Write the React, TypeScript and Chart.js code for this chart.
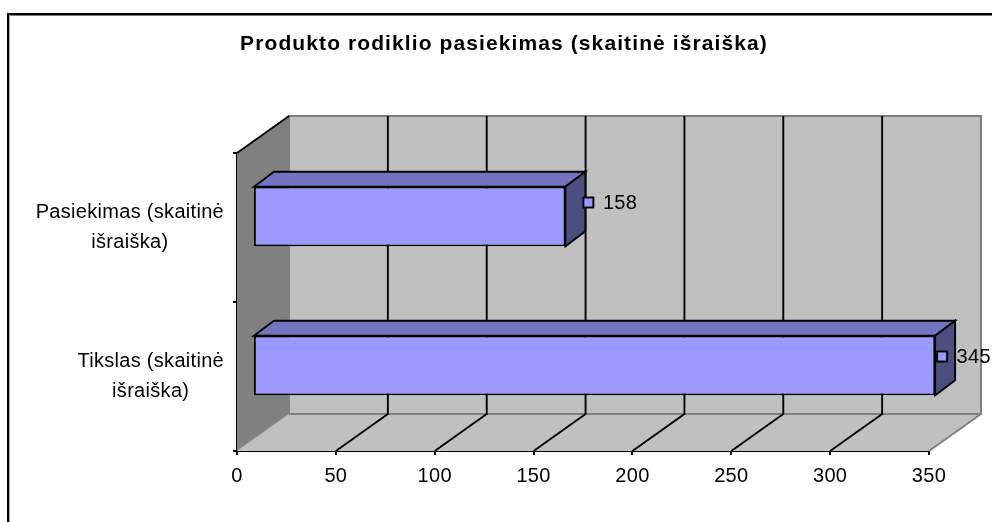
import React, { useEffect, useRef } from "react";
import { Chart, registerables } from "chart.js";

Chart.register(...registerables);

const titleText = "Produkto rodiklio pasiekimas (skaitinė išraiška)";
const categories = [
  ["Pasiekimas (skaitinė", "išraiška)"],
  ["Tikslas (skaitinė", "išraiška)"],
];
const seriesValues = [158, 345];
const seriesName = "Produkto rodiklis";
const xTickMax = 350;
const xTickStep = 50;

// 3D projection of the Excel-style chart box (pixels)
const DEPTH_X = 52;
const DEPTH_Y = -37;
const BAR_SHIFT_X = 16;
const BAR_SHIFT_Y = -11;
const BAR_DEPTH_X = 20;
const BAR_DEPTH_Y = -15;
const LABEL_SHIFT: [number, number][] = [
  [23, -14],
  [7, -9],
];
const LINE = 1.9;
const TEXT_SPACING = "0.3px";
const TITLE_SPACING = "1.1px";

const FONT = "'Liberation Sans', Arial, sans-serif";
const C_WALL = "#C0C0C0";
const C_SIDE = "#808080";
const C_BAR = "#9999FF";
const C_BAR_TOP = "#7373BF";
const C_BAR_SIDE = "#4D4D80";

function poly(ctx: CanvasRenderingContext2D, pts: number[][], fill?: string, stroke?: string, lw = 1) {
  ctx.beginPath();
  pts.forEach((p, i) => (i ? ctx.lineTo(p[0], p[1]) : ctx.moveTo(p[0], p[1])));
  if (fill) {
    ctx.closePath();
    ctx.fillStyle = fill;
    ctx.fill();
  }
  if (stroke) {
    ctx.strokeStyle = stroke;
    ctx.lineWidth = lw;
    ctx.stroke();
  }
}

const boxPlugin = {
  id: "box3d",
  beforeLayout(chart: any) {
    chart.ctx.letterSpacing = TEXT_SPACING;
  },
  afterLayout(chart: any) {
    const block = chart.titleBlock;
    if (block) {
      // centre of the title is not the centre of the plot
      block.left = 16;
      block.right = 992;
      if (!block.__spaced) {
        block.__spaced = true;
        const draw = block.draw;
        block.draw = function () {
          chart.ctx.letterSpacing = TITLE_SPACING;
          draw.call(block);
          chart.ctx.letterSpacing = TEXT_SPACING;
        };
      }
    }
  },
  beforeDraw(chart: any) {
    const ctx = chart.ctx;
    ctx.letterSpacing = TEXT_SPACING;
    ctx.save();
    ctx.fillStyle = "#fff";
    ctx.fillRect(0, 0, chart.width, chart.height);
    ctx.fillStyle = "#808080";
    ctx.fillRect(9, 15, chart.width, 1);
    ctx.fillStyle = "#AAAAAA";
    ctx.fillRect(9, 15, 1, chart.height);
    ctx.fillStyle = "#000";
    ctx.fillRect(7, 13, chart.width, 2);
    ctx.fillRect(7, 13, 2, chart.height);
    ctx.restore();
  },
  beforeDatasetsDraw(chart: any) {
    const { ctx, chartArea: a, scales } = chart;
    const { left: l, right: r, top: t, bottom: b } = a;
    const dx = DEPTH_X;
    const dy = DEPTH_Y;
    ctx.save();
    // back wall
    poly(ctx, [[l + dx, t + dy], [r + dx, t + dy], [r + dx, b + dy], [l + dx, b + dy]], C_WALL);
    // floor
    poly(ctx, [[l, b], [r, b], [r + dx, b + dy], [l + dx, b + dy]], C_WALL);
    // side wall
    poly(ctx, [[l, b], [l + dx, b + dy], [l + dx, t + dy], [l, t]], C_SIDE);
    // wall edges
    poly(ctx, [[l + dx, b + dy], [l + dx, t + dy], [r + dx, t + dy], [r + dx, b + dy], [l + dx, b + dy]], undefined, C_SIDE, 2);
    poly(ctx, [[l, b], [l + dx, b + dy]], undefined, "#A8A8A8", 1);
    poly(ctx, [[r, b], [r + dx, b + dy]], undefined, C_SIDE, 2);
    // grid lines
    for (const tick of scales.x.ticks) {
      const x = scales.x.getPixelForValue(tick.value);
      if (tick.value > 0 && tick.value < xTickMax) {
        poly(ctx, [[x, b], [x + dx, b + dy], [x + dx, t + dy]], undefined, "#000", LINE);
      }
    }
    // side wall top edge
    poly(ctx, [[l, t], [l + dx, t + dy]], undefined, "#000", LINE);
    ctx.restore();
  },
  beforeDatasetDraw(chart: any) {
    const ctx = chart.ctx;
    const meta = chart.getDatasetMeta(0);
    ctx.save();
    ctx.translate(BAR_SHIFT_X, BAR_SHIFT_Y);
    ctx.lineJoin = "miter";
    for (const bar of meta.data) {
      const p = bar.getProps(["x", "y", "base", "height"], true);
      const top = p.y - p.height / 2;
      const bot = p.y + p.height / 2;
      const ddx = BAR_DEPTH_X;
      const ddy = BAR_DEPTH_Y;
      poly(ctx, [[p.base, top], [p.x, top], [p.x + ddx, top + ddy], [p.base + ddx, top + ddy], [p.base, top]], C_BAR_TOP, "#000", LINE);
      poly(ctx, [[p.x, top], [p.x + ddx, top + ddy], [p.x + ddx, bot + ddy], [p.x, bot], [p.x, top]], C_BAR_SIDE, "#000", LINE);
    }
  },
  afterDatasetDraw(chart: any) {
    chart.ctx.restore();
  },
  afterDatasetsDraw(chart: any) {
    const ctx = chart.ctx;
    const meta = chart.getDatasetMeta(0);
    ctx.save();
    meta.data.forEach((bar: any, i: number) => {
      const p = bar.getProps(["x", "y"], true);
      const mx = p.x + BAR_SHIFT_X + LABEL_SHIFT[i][0];
      const my = p.y + BAR_SHIFT_Y + LABEL_SHIFT[i][1];
      ctx.fillStyle = C_BAR;
      ctx.fillRect(mx - 5, my - 5, 10, 10);
      ctx.strokeStyle = "#000";
      ctx.lineWidth = LINE;
      ctx.strokeRect(mx - 5, my - 5, 10, 10);
      ctx.fillStyle = "#000";
      ctx.font = `20px ${FONT}`;
      ctx.textAlign = "left";
      ctx.textBaseline = "middle";
      ctx.fillText(String(seriesValues[i]), mx + 14.5, my + 1);
    });
    ctx.restore();
  },
};

// Each category block is centred on itself, and the blocks share a right edge.
function alignCategoryBlocks(scale: any) {
  if (scale.__blocks) return;
  scale.__blocks = true;
  const original = scale.getLabelItems;
  let cached: any = null;
  scale.getLabelItems = function (area: any) {
    if (cached) return cached;
    const items = original.call(scale, area);
    const sizes = scale._labelSizes;
    const widest = sizes.widest.width;
    cached = items.map((item: any, i: number) => {
      const shift = (widest - sizes.widths[i]) / 2;
      const [tx, ty] = item.options.translation;
      return { ...item, options: { ...item.options, translation: [tx + shift, ty] } };
    });
    return cached;
  };
}

export default function App() {
  const ref = useRef<HTMLCanvasElement>(null);
  useEffect(() => {
    const chart = new Chart(ref.current as HTMLCanvasElement, {
      type: "bar",
      plugins: [boxPlugin],
      data: {
        labels: categories as any,
        datasets: [
          {
            label: seriesName,
            data: seriesValues,
            backgroundColor: C_BAR,
            borderColor: "#000",
            borderWidth: LINE,
            borderSkipped: false,
            barPercentage: 0.4,
            categoryPercentage: 1,
          },
        ],
      },
      options: {
        indexAxis: "y",
        animation: false,
        responsive: false,
        layout: { padding: { left: 0, right: 63, top: 0, bottom: 0 } },
        plugins: {
          legend: { display: false },
          tooltip: { enabled: false },
          title: {
            display: true,
            text: titleText,
            color: "#000",
            font: { family: FONT, size: 21, weight: "bold", lineHeight: 1.2 },
            padding: { top: 32, bottom: 95.8 },
          },
        },
        scales: {
          x: {
            type: "linear",
            min: 0,
            max: xTickMax,
            ticks: { stepSize: xTickStep, color: "#000", padding: 9.5, maxRotation: 0, font: { family: FONT, size: 20 } },
            grid: { drawOnChartArea: false, drawTicks: true, tickLength: 4, color: "#000", lineWidth: LINE },
            border: { color: "#000", width: LINE },
            afterFit(scale: any) {
              scale.height = 71;
            },
          },
          y: {
            type: "category",
            ticks: {
              color: "#000",
              padding: 9,
              crossAlign: "center",
              autoSkip: false,
              font: { family: FONT, size: 20, lineHeight: 1.5 },
            },
            grid: { drawOnChartArea: false, drawTicks: true, tickLength: 4, color: "#000", lineWidth: LINE, offset: true },
            border: { color: "#000", width: LINE },
            afterFit(scale: any) {
              scale.width = 237;
            },
            afterUpdate: alignCategoryBlocks,
          },
        },
      } as any,
    });
    return () => chart.destroy();
  }, []);
  return (
    <div style={{ position: "absolute", left: 0, top: 0, width: 992, height: 522, overflow: "hidden" }}>
      <canvas ref={ref} width={992} height={522} style={{ display: "block" }} />
    </div>
  );
}
